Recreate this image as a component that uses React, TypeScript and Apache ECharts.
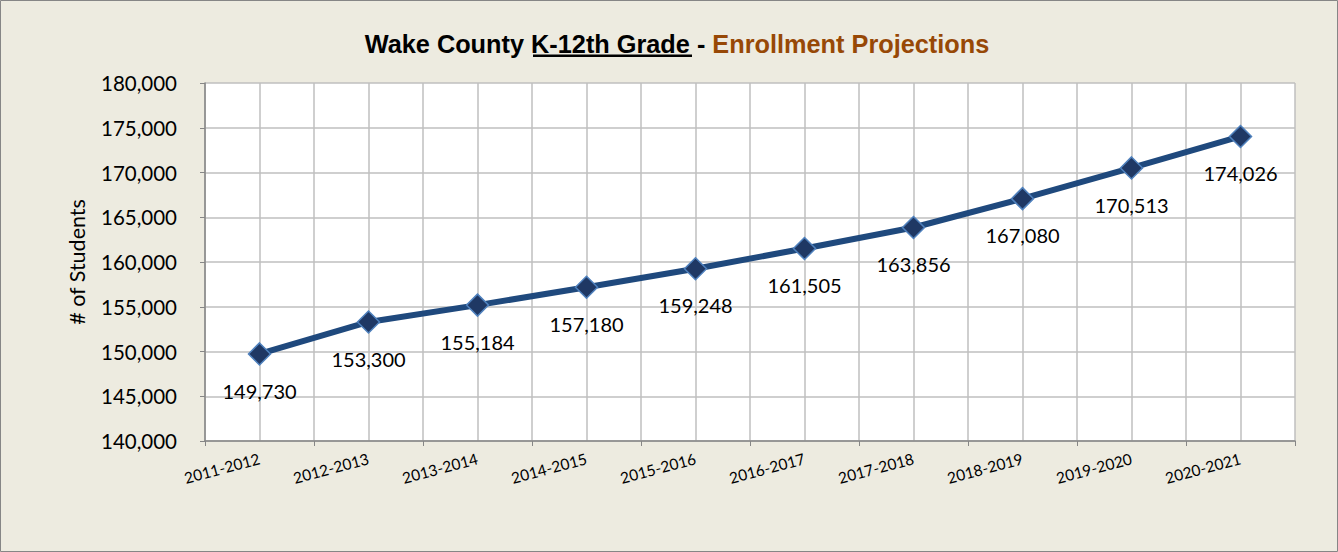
import React, { useEffect, useRef } from "react";
import * as echarts from "echarts";

const categories = ["2011-2012", "2012-2013", "2013-2014", "2014-2015", "2015-2016", "2016-2017", "2017-2018", "2018-2019", "2019-2020", "2020-2021"];
const students = [149730, 153300, 155184, 157180, 159248, 161505, 163856, 167080, 170513, 174026];
const halfSlots = Array.from({ length: categories.length * 2 }, (_, i) => String(i));

const FONT = "Lato";
const fmt = (v: number) => v.toLocaleString("en-US");

export default function App() {
  const ref = useRef<HTMLDivElement>(null);
  useEffect(() => {
    const chart = echarts.init(ref.current!, null, { renderer: "svg" });
    chart.setOption({
      animation: false,
      backgroundColor: "#EDEBE0",
      title: {
        left: 672,
        textAlign: "center",
        top: 26,
        text: "{a|Wake County }{a|K-12th Grade}{a| - }{b|Enrollment Projections}",
        textStyle: {
          rich: {
            a: { fontFamily: "Liberation Sans", fontWeight: "bold", fontSize: 25.3, color: "#000" },
            b: { fontFamily: "Liberation Sans", fontWeight: "bold", fontSize: 25.3, color: "#974806" },
          },
        },
      },
      graphic: [
        { type: "rect", shape: { x: 0.5, y: 0.5, width: 1337, height: 551 }, style: { fill: "none", stroke: "#868686", lineWidth: 1 }, silent: true },
        { type: "rect", shape: { x: 533, y: 54.5, width: 159, height: 2.5 }, style: { fill: "#000" }, silent: true },
      ],
      grid: { left: 205, right: 43, top: 83, bottom: 111, show: true, backgroundColor: "#FFFFFF", borderWidth: 0 },
      xAxis: [
        {
          type: "category",
          data: categories,
          boundaryGap: true,
          axisLine: { lineStyle: { color: "#868686", width: 1.5 } },
          axisTick: { show: true, length: 5, lineStyle: { color: "#868686" } },
          splitLine: { show: false },
          axisLabel: { rotate: 15, margin: 17, fontFamily: FONT, fontSize: 15.5, color: "#000", interval: 0 },
        },
        {
          type: "category",
          data: halfSlots,
          boundaryGap: true,
          position: "bottom",
          axisLine: { show: false },
          axisTick: { show: false },
          axisLabel: { show: false },
          splitLine: { show: true, interval: 0, lineStyle: { color: "#BFBFBF", width: 1.5 } },
        },
      ],
      yAxis: {
        type: "value",
        min: 140000,
        max: 180000,
        interval: 5000,
        name: "# of Students",
        nameLocation: "middle",
        nameGap: 117,
        nameTextStyle: { fontFamily: FONT, fontSize: 21.5, color: "#000" },
        axisLine: { show: true, lineStyle: { color: "#868686", width: 1.5 } },
        axisTick: { show: true, length: 5, lineStyle: { color: "#868686" } },
        splitLine: { show: true, lineStyle: { color: "#BFBFBF", width: 1.5 } },
        axisLabel: { margin: 28, fontFamily: FONT, fontSize: 20.5, color: "#000", formatter: (v: number) => fmt(v) },
      },
      series: [
        {
          type: "line",
          data: students,
          xAxisIndex: 0,
          symbol: "diamond",
          symbolSize: 22,
          lineStyle: { color: "#1F497D", width: 6 },
          itemStyle: { color: "#1F3864", borderColor: "#4F81BD", borderWidth: 1.5 },
          label: {
            show: true,
            position: "bottom",
            distance: 15,
            fontFamily: FONT,
            fontSize: 20,
            color: "#000",
            formatter: (p: any) => fmt(p.value),
          },
          z: 5,
        },
      ],
    });
    return () => chart.dispose();
  }, []);
  return <div ref={ref} style={{ position: "fixed", left: 0, top: 0, width: 1338, height: 552 }} />;
}
